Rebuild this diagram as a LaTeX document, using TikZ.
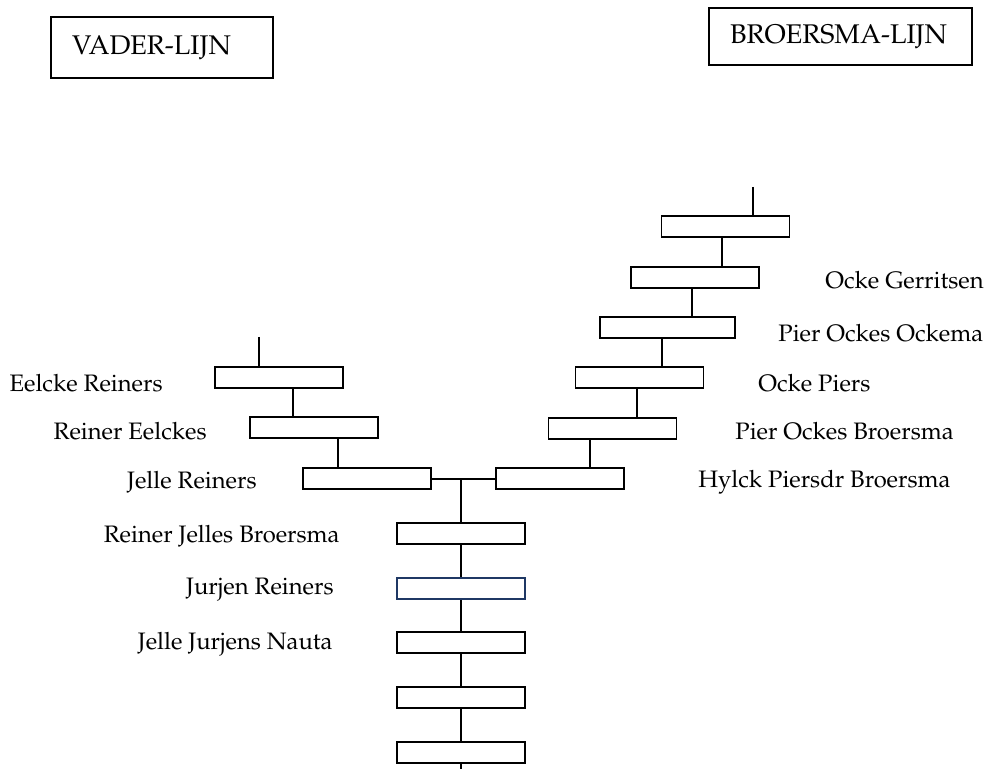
\documentclass[tikz,border=0pt]{standalone}
\usepackage[T1]{fontenc}
\usepackage{mathpazo}
\usetikzlibrary{calc}
\definecolor{navy}{RGB}{31,56,100}
\tikzset{
  person/.style={draw, line width=0.85pt, minimum width=64pt, minimum height=10.5pt, inner sep=0pt},
  link/.style={line width=0.7pt},
  persname/.style={inner sep=0pt, font=\fontsize{11.9}{14}\selectfont},
  titlebox/.style={draw, line width=0.8pt, inner xsep=10.5pt, align=left, font=\fontsize{13.5}{15}\selectfont}
}
\begin{document}
\begin{tikzpicture}[x=0.5pt, y=-0.5pt]
    \useasboundingbox (0,0) rectangle (988,769);

    % headings
    \node[titlebox, text width=90pt, minimum height=30.5pt] (vader) at (162,47.5) {VADER-LIJN};
    \node[titlebox, text width=110.5pt, minimum height=28.5pt] (broersma) at (840.5,36.5) {BROERSMA-LIJN};

    % vader-lijn
    \node[person] (eelcke) at (279,377.5) {};
    \node[person] (reinere) at (314,427.5) {};
    \node[person] (jeller) at (367,478.5) {};

    % broersma-lijn
    \node[person] (top) at (725.5,226.5) {};
    \node[person] (ocke) at (695,277.5) {};
    \node[person, minimum width=67.5pt] (pierockema) at (667.5,327.5) {};
    \node[person] (ockep) at (639.5,377.5) {};
    \node[person] (pierbroersma) at (612.5,428.5) {};
    \node[person] (hylck) at (560,478.5) {};

    % kinderen
    \node[person] (reinerj) at (461,533.5) {};
    \node[person, draw=navy] (jurjen) at (461,588.5) {};
    \node[person] (jellej) at (461,642.5) {};
    \node[person] (kind4) at (461,697.5) {};
    \node[person] (kind5) at (461,752.5) {};

    \coordinate (vtop) at (259,337);
    \coordinate (btop) at (753,187);
    \coordinate (join) at (461,479);
    \coordinate (bottom) at (461,769);

    \draw[link] (vtop) -- (vtop |- eelcke.north);
    \draw[link] ($(eelcke.south)+(14,0)$) -- ($(reinere.north)+(-21,0)$);
    \draw[link] ($(reinere.south)+(24,0)$) -- ($(jeller.north)+(-29,0)$);
    \draw[link] ($(jeller.east)+(0,0.5)$) -- ($(hylck.west)+(0,0.5)$);

    \draw[link] (btop) -- (btop |- top.north);
    \draw[link] ($(top.south)+(-3.5,0)$) -- ($(ocke.north)+(27,0)$);
    \draw[link] ($(ocke.south)+(-3,0)$) -- ($(pierockema.north)+(24.5,0)$);
    \draw[link] ($(pierockema.south)+(-5.5,0)$) -- ($(ockep.north)+(22.5,0)$);
    \draw[link] ($(ockep.south)+(-2.5,0)$) -- ($(pierbroersma.north)+(24.5,0)$);
    \draw[link] ($(pierbroersma.south)+(-22.5,0)$) -- ($(hylck.north)+(30,0)$);

    \draw[link] (join) -- (reinerj) -- (jurjen) -- (jellej) -- (kind4) -- (kind5) -- (bottom);

    % namen
    \node[persname, anchor=base east] (n-eelcke) at (163,391) {Eelcke Reiners};
    \node[persname, anchor=base east] (n-reinere) at (207,439) {Reiner Eelckes};
    \node[persname, anchor=base east] (n-jeller) at (257,488) {Jelle Reiners};
    \node[persname, anchor=base east] (n-reinerj) at (340,542) {Reiner Jelles Broersma};
    \node[persname, anchor=base east] (n-jurjen) at (334,594) {Jurjen Reiners};
    \node[persname, anchor=base east] (n-jellej) at (333,649) {Jelle Jurjens Nauta};
    \node[persname, anchor=base west] (n-ocke) at (825,289) {Ocke Gerritsen};
    \node[persname, anchor=base west] (n-pierockema) at (778,342) {Pier Ockes Ockema};
    \node[persname, anchor=base west] (n-ockep) at (758,391) {Ocke Piers};
    \node[persname, anchor=base west] (n-pierbroersma) at (735,439) {Pier Ockes Broersma};
    \node[persname, anchor=base west] (n-hylck) at (698,487) {Hylck Piersdr Broersma};
\end{tikzpicture}
\end{document}
